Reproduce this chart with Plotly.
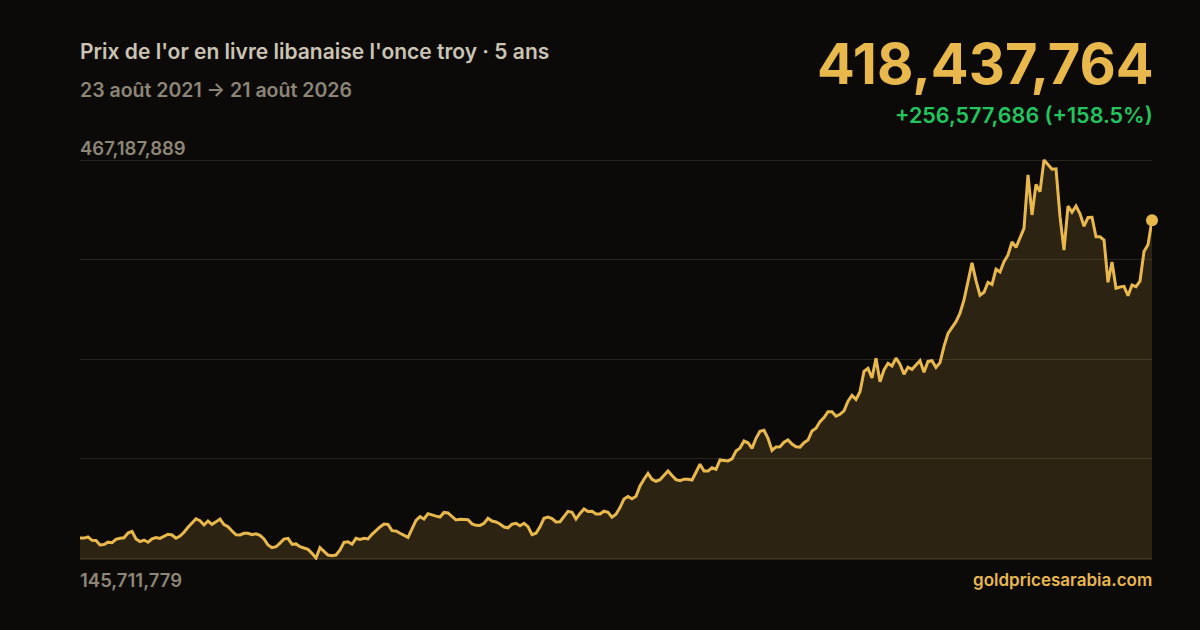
import pandas as pd
import plotly.graph_objects as go

# Gold price in Lebanese pounds per troy ounce (millions), roughly weekly, 23 Aug 2021 -> 21 Aug 2026
values_m = [
    161.860078, 161.8, 162.7, 160.0, 159.9, 156.2, 156.6, 158.5, 158.1, 160.7, 161.7, 162.0, 165.9, 167.2,
    161.1, 159.0, 160.2, 158.4, 161.2, 162.3, 161.5, 163.1, 164.9, 164.3, 161.7, 163.5, 166.5, 170.5,
    173.7, 177.4, 175.8, 172.4, 175.6, 172.9, 174.9, 177.2, 172.7, 171.0, 167.5, 164.4, 164.3, 165.7,
    165.7, 164.5, 165.3, 164.0, 161.1, 156.2, 154.0, 154.8, 157.7, 161.0, 161.6, 156.9, 157.1, 154.9,
    153.8, 152.7, 149.5, 145.711779, 154.1, 151.0, 148.1, 147.6, 148.1, 152.2, 158.4, 158.8, 156.8, 161.6,
    160.7, 161.6, 161.1, 164.8, 168.1, 170.8, 173.2, 172.9, 167.8, 167.5, 165.7, 163.9, 162.4, 169.3,
    176.1, 179.1, 177.2, 181.5, 180.2, 179.5, 178.8, 182.5, 182.1, 179.1, 176.4, 177.0, 176.6, 176.6,
    173.3, 172.1, 172.0, 173.7, 177.8, 175.6, 174.8, 173.2, 170.7, 170.1, 173.0, 173.7, 171.7, 173.7,
    171.0, 164.5, 165.7, 170.9, 177.8, 178.8, 177.6, 174.8, 175.0, 179.2, 183.4, 182.7, 177.2, 181.7,
    185.3, 183.3, 183.4, 181.2, 181.2, 183.5, 182.7, 178.6, 181.1, 186.4, 193.4, 195.4, 193.5, 195.5,
    203.9, 209.3, 214.1, 209.3, 207.7, 209.0, 212.7, 216.0, 212.3, 209.0, 208.1, 209.4, 209.3, 208.7,
    215.0, 221.4, 215.9, 215.9, 218.6, 217.3, 224.9, 224.5, 224.1, 225.8, 232.1, 234.5, 240.2, 238.8,
    234.3, 242.4, 248.0, 248.9, 242.4, 232.7, 235.4, 235.6, 239.2, 241.1, 237.8, 235.6, 235.3, 238.9,
    241.0, 248.3, 250.5, 255.9, 259.2, 263.9, 263.9, 260.2, 261.8, 264.5, 272.4, 277.1, 273.8, 280.0,
    296.4, 298.9, 291.1, 307.0, 288.1, 297.6, 303.0, 300.8, 307.2, 302.2, 294.1, 299.8, 298.1, 301.6,
    305.1, 295.7, 304.5, 305.1, 299.6, 303.5, 316.6, 327.1, 331.7, 336.6, 343.4, 354.2, 368.9, 384.2,
    369.7, 357.9, 360.4, 368.4, 366.6, 378.9, 376.7, 385.0, 390.5, 401.0, 396.6, 404.0, 412.0, 455.1,
    422.8, 447.5, 441.6, 467.187889, 463.9, 459.8, 460.1, 421.4, 394.5, 430.0, 425.0, 430.0, 423.8, 413.7,
    420.7, 420.9, 405.2, 405.2, 402.6, 368.4, 384.8, 363.6, 364.6, 365.1, 357.6, 366.2, 364.9, 369.4,
    393.3, 398.7, 418.437764,
]
values = [v * 1e6 for v in values_m]
dates = pd.date_range("2021-08-23", "2026-08-21", periods=len(values))

title_text = "Prix de l'or en livre libanaise l'once troy · 5 ans"
subtitle_text = "23 août 2021 → 21 août 2026"
source_text = "goldpricesarabia.com"

GOLD = "#e8b84d"
BG = "#0b0a09"
MUTED = "#8d8677"
TITLE_C = "#cbc4b4"
GREEN = "#22c55e"
GRID = "#27241d"

vmin, vmax = min(values), max(values)
first, last = values[0], values[-1]
change = last - first
pct = change / first * 100

W, H = 1200, 630
L, R, T, B = 80, 48, 158, 70  # plot area 80..1152, 158..560
span = vmax - vmin
pad = span * 2 / 398
plot_h = H - T - B


def py(y_px):
    return (H - B - y_px) / plot_h


def px(x_px):
    return (x_px - L) / (W - L - R)


fig = go.Figure()
fig.add_trace(go.Scatter(
    x=list(dates), y=values, mode="lines",
    line=dict(color=GOLD, width=3, shape="linear"),
    fill="tozeroy", fillcolor="rgba(232,184,77,0.15)",
    hoverinfo="skip", showlegend=False,
))
fig.add_trace(go.Scatter(
    x=[dates[-1]], y=[last], mode="markers",
    marker=dict(color=GOLD, size=12), cliponaxis=False,
    hoverinfo="skip", showlegend=False,
))

grid_vals = [vmin + span * k / 4 for k in range(5)]

fig.update_layout(
    width=W, height=H,
    paper_bgcolor=BG, plot_bgcolor=BG,
    margin=dict(l=L, r=R, t=T, b=B),
    xaxis=dict(range=[dates[0], dates[-1]], showgrid=False, zeroline=False,
               showticklabels=False, showline=False, ticks="", fixedrange=True),
    yaxis=dict(range=[vmin - pad, vmax + pad], tickvals=grid_vals, showticklabels=False,
               showgrid=True, gridcolor=GRID, gridwidth=1, zeroline=False, showline=False, ticks="",
               fixedrange=True),
    font=dict(family="Inter, Noto Sans, sans-serif"),
    hovermode=False,
)

ann = []
ann.append(dict(text=title_text, x=px(80), y=py(52), xanchor="left", yanchor="middle", xshift=-2,
                font=dict(size=21, color=TITLE_C, weight=600)))
ann.append(dict(text=subtitle_text, x=px(80), y=py(90), xanchor="left", yanchor="middle", xshift=-2,
                font=dict(size=19.5, color=MUTED, weight=600)))
ann.append(dict(text=f"{last:,.0f}", x=px(1152), y=py(64), xanchor="right", yanchor="middle", xshift=4,
                font=dict(size=56, color=GOLD, weight=700)))
ann.append(dict(text=f"+{change:,.0f} (+{pct:.1f}%)", x=px(1152), y=py(115), xanchor="right",
                yanchor="middle", xshift=3, font=dict(size=21.5, color=GREEN, weight=600)))
ann.append(dict(text=f"{vmax:,.0f}", x=px(80), y=py(148), xanchor="left", yanchor="middle", xshift=-2,
                font=dict(size=18.5, color=MUTED, weight=600)))
ann.append(dict(text=f"{vmin:,.0f}", x=px(80), y=py(580), xanchor="left", yanchor="middle", xshift=-2,
                font=dict(size=18.5, color=MUTED, weight=600)))
ann.append(dict(text=source_text, x=px(1152), y=py(580), xanchor="right", yanchor="middle", xshift=2,
                font=dict(size=17, color=GOLD, weight=600)))
for a in ann:
    a.update(xref="paper", yref="paper", showarrow=False)
fig.update_layout(annotations=ann)

fig.write_html("out.html", config={"displayModeBar": False, "staticPlot": True},
               post_script="document.body.style.margin='0';document.body.style.background='%s';" % BG)
